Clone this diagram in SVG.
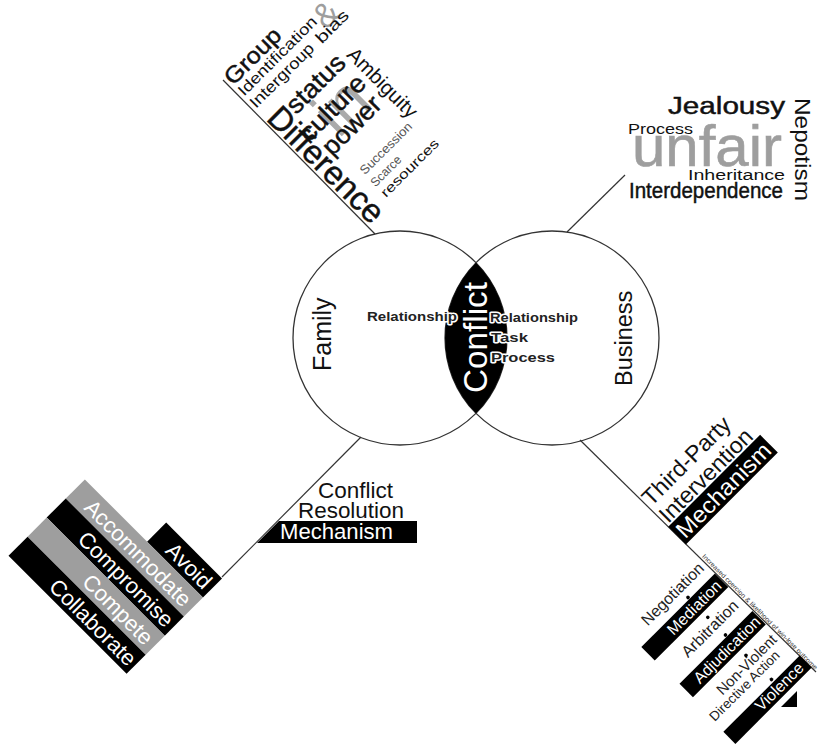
<svg xmlns="http://www.w3.org/2000/svg" width="818" height="748" viewBox="0 0 818 748">
  <style>
    text { font-family: "Liberation Sans", Arial, sans-serif; }
    .ink { fill: #111; }
    .heavy { fill: #111; stroke: #111; stroke-width: 0.45; }
    .soft { fill: #9e9e9e; }
    .mid { fill: #555; }
    .rev { fill: #fff; }
    .halo { fill: #222; font-weight: bold; stroke: #fff; stroke-width: 3; paint-order: stroke; stroke-linejoin: round; }
    .ring { fill: none; stroke: #333; stroke-width: 1.3; }
    .wire { fill: none; stroke: #333; stroke-width: 1.2; }
    .bar-dark { fill: #000; }
    .bar-grey { fill: #9e9e9e; }
  </style>

  <!-- connectors -->
  <g id="connectors">
    <line class="wire" x1="375" y1="234" x2="223" y2="80"/>
    <line class="wire" x1="567" y1="232" x2="625" y2="175"/>
    <line class="wire" x1="361" y1="437" x2="222" y2="577"/>
    <line class="wire" x1="580" y1="440" x2="816" y2="672"/>
  </g>

  <!-- Family circle -->
  <g id="node-family">
    <circle class="ring" cx="400" cy="338" r="107"/>
    <text class="ink" transform="translate(331,371) rotate(-90)" font-size="25">Family</text>
  </g>

  <!-- Business circle -->
  <g id="node-business">
    <circle class="ring" cx="552" cy="338" r="107"/>
    <text class="ink" transform="translate(632,386) rotate(-90)" font-size="23.5">Business</text>
  </g>

  <!-- Overlap: conflict, with its types on either side -->
  <g id="node-conflict">
    <path d="M476,262.7 A107,107 0 0,1 476,413.3 A107,107 0 0,1 476,262.7 Z" fill="#000"/>
    <text class="rev" transform="translate(487,393) rotate(-90)" font-size="33" textLength="111" lengthAdjust="spacingAndGlyphs">Conflict</text>
    <text class="halo" x="367" y="321" font-size="13.5" textLength="90" lengthAdjust="spacingAndGlyphs">Relationship</text>
    <text class="halo" x="490" y="322" font-size="13.5" textLength="88" lengthAdjust="spacingAndGlyphs">Relationship</text>
    <text class="halo" x="491" y="342" font-size="13.5" textLength="37" lengthAdjust="spacingAndGlyphs">Task</text>
    <text class="halo" x="491" y="362" font-size="13.5" textLength="64" lengthAdjust="spacingAndGlyphs">Process</text>
  </g>

  <!-- Family-side sources of conflict -->
  <g id="cloud-family">
    <g transform="rotate(-45)">
      <text class="soft" x="209" y="252" font-size="34">&amp;</text>
      <text x="141" y="338" font-size="64" fill="#aaa">in</text>
      <text class="heavy" x="104" y="226" font-size="23" textLength="70" lengthAdjust="spacingAndGlyphs">Group</text>
      <text class="ink" x="104" y="241" font-size="15.5" textLength="105" lengthAdjust="spacingAndGlyphs">Identification</text>
      <text class="ink" x="104" y="258" font-size="16" textLength="84" lengthAdjust="spacingAndGlyphs">Intergroup</text>
      <text class="ink" x="196" y="259" font-size="16" textLength="40" lengthAdjust="spacingAndGlyphs">bias</text>
      <text class="heavy" x="128" y="291" font-size="26" textLength="72" lengthAdjust="spacingAndGlyphs">status</text>
      <text class="heavy" x="118" y="320" font-size="26" textLength="82" lengthAdjust="spacingAndGlyphs">culture</text>
      <text class="heavy" x="124" y="346" font-size="26" textLength="72" lengthAdjust="spacingAndGlyphs">power</text>
      <text class="mid" x="134" y="382" font-size="12.5" textLength="68" lengthAdjust="spacingAndGlyphs">Succession</text>
      <text class="mid" x="133" y="398" font-size="12.5" textLength="38" lengthAdjust="spacingAndGlyphs">Scarce</text>
      <text class="ink" x="133" y="413" font-size="13.5" textLength="76" lengthAdjust="spacingAndGlyphs">resources</text>
    </g>
    <g transform="rotate(45)">
      <text class="heavy" x="272" y="-103" font-size="33" textLength="150" lengthAdjust="spacingAndGlyphs">Difference</text>
      <text class="ink" x="284" y="-205" font-size="20.5" textLength="90" lengthAdjust="spacingAndGlyphs">Ambiguity</text>
    </g>
  </g>

  <!-- Business-side sources of conflict -->
  <g id="cloud-business">
    <text class="heavy" x="668" y="114" font-size="23" textLength="117" lengthAdjust="spacingAndGlyphs">Jealousy</text>
    <text class="soft" x="632" y="166" font-size="58" stroke="#9e9e9e" stroke-width="0.6" textLength="150" lengthAdjust="spacingAndGlyphs">unfair</text>
    <text class="ink" x="628" y="134" font-size="15" textLength="65" lengthAdjust="spacingAndGlyphs">Process</text>
    <text class="ink" x="688" y="180" font-size="15.5" textLength="97" lengthAdjust="spacingAndGlyphs">Inheritance</text>
    <text class="heavy" x="629" y="198" font-size="22" stroke-width="0.3" textLength="154" lengthAdjust="spacingAndGlyphs">Interdependence</text>
    <text class="ink" transform="translate(795,98) rotate(90)" font-size="21.5" textLength="103" lengthAdjust="spacingAndGlyphs">Nepotism</text>
  </g>

  <!-- Conflict resolution mechanism -->
  <g id="node-resolution">
    <text class="ink" x="318" y="498" font-size="22" textLength="75" lengthAdjust="spacingAndGlyphs">Conflict</text>
    <text class="ink" x="298" y="518" font-size="22" textLength="106" lengthAdjust="spacingAndGlyphs">Resolution</text>
    <polygon points="279,521 417,521 417,543 257,543" fill="#000"/>
    <text class="rev" x="280" y="539" font-size="22" textLength="113" lengthAdjust="spacingAndGlyphs">Mechanism</text>
    <g transform="rotate(45)" font-size="22" text-anchor="end">
      <rect class="bar-dark" x="487" y="252" width="79" height="27"/>
      <rect class="bar-grey" x="399" y="279" width="167" height="27"/>
      <rect class="bar-dark" x="399" y="306" width="167" height="27"/>
      <rect class="bar-grey" x="399" y="333" width="167" height="27"/>
      <rect class="bar-dark" x="399" y="360" width="167" height="27"/>
      <text class="rev" x="561" y="274">Avoid</text>
      <text class="rev" x="559" y="301">Accommodate</text>
      <text class="rev" x="561" y="328">Compromise</text>
      <text class="rev" x="559" y="355">Compete</text>
      <text class="rev" x="562" y="382">Collaborate</text>
    </g>
  </g>

  <!-- Third-party intervention mechanism -->
  <g id="node-third-party">
    <g transform="rotate(-45)">
      <text class="ink" x="102" y="819" font-size="23" textLength="115" lengthAdjust="spacingAndGlyphs">Third-Party</text>
      <text class="ink" x="102" y="843" font-size="23" textLength="122" lengthAdjust="spacingAndGlyphs">Intervention</text>
      <rect class="bar-dark" x="100" y="845" width="130" height="25"/>
      <text class="rev" x="103" y="866" font-size="23" textLength="124" lengthAdjust="spacingAndGlyphs">Mechanism</text>

      <g font-size="16" text-anchor="end">
        <text fill="#222" x="96" y="901">Negotiation</text>
        <circle cx="64" cy="909" r="1.8" fill="#000"/>
        <rect class="bar-dark" x="-4" y="911" width="104" height="19"/>
        <text class="rev" x="96" y="926">Mediation</text>
        <circle cx="64" cy="937" r="1.8" fill="#000"/>
        <text fill="#222" x="94" y="952">Arbitration</text>
        <circle cx="64" cy="962" r="1.8" fill="#000"/>
        <rect class="bar-dark" x="-3" y="964" width="103" height="19"/>
        <text class="rev" x="98" y="979">Adjudication</text>
        <circle cx="64" cy="991" r="1.8" fill="#000"/>
        <text fill="#222" x="97" y="1003" font-size="15">Non-Violent</text>
        <text fill="#222" x="88" y="1016" font-size="13.5">Directive Action</text>
        <circle cx="65" cy="1026" r="1.8" fill="#000"/>
        <rect class="bar-dark" x="-6" y="1029" width="108" height="17"/>
        <text class="rev" x="96" y="1042">Violence</text>
      </g>
    </g>
    <g transform="rotate(45)">
      <text fill="#333" x="890" y="-102.5" font-size="6.5" textLength="160" lengthAdjust="spacingAndGlyphs">Increased coercion &amp; likelihood of win-lose outcome</text>
    </g>
    <polygon points="781,707 797,691 797,707" fill="#000"/>
  </g>
</svg>
